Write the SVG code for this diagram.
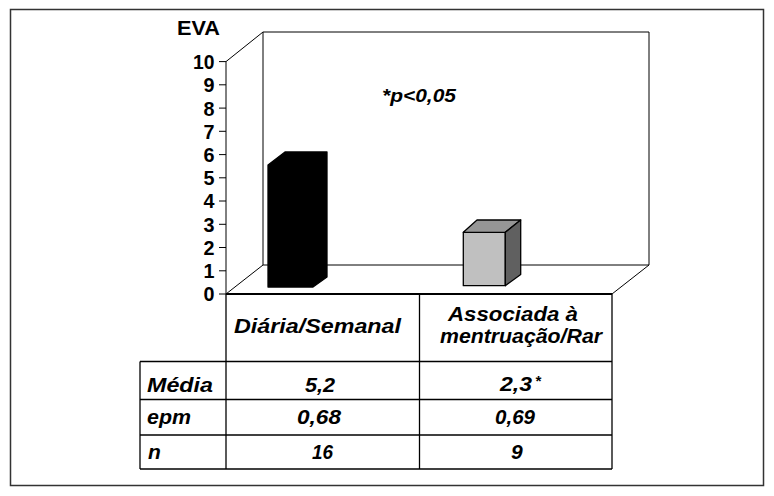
<svg xmlns="http://www.w3.org/2000/svg" width="774" height="496" viewBox="0 0 774 496">
<style>
.t{font-family:"Liberation Sans",Arial,sans-serif;font-weight:bold;fill:#000}
.i{font-style:italic;font-size:21px}
.ax{font-size:21px;text-anchor:end}
.ln{stroke:#000;stroke-width:1;fill:none}
.tb{stroke:#000;stroke-width:1.3;fill:none}
.bar{stroke:#000;stroke-width:1.3;stroke-linejoin:round}
</style>
<rect x="10.5" y="9.5" width="753" height="476" fill="#fff" stroke="#333" stroke-width="1.5"/>
<g id="walls" class="ln">
<polyline points="226,61.6 263,32 649,32 649,265 612,294"/>
<line x1="263" y1="32" x2="263" y2="265"/>
<polyline points="226,294 263,265 649,265"/>
</g>
<g id="axis" class="ln">
<line x1="226" y1="61.6" x2="226" y2="294"/>
<path d="M219,61.6H226M219,84.8H226M219,108.1H226M219,131.3H226M219,154.6H226M219,177.8H226M219,201H226M219,224.3H226M219,247.5H226M219,270.8H226M219,294H226"/>
</g>
<g id="axis-labels" class="t ax">
<text x="214.5" y="69" textLength="21.5" lengthAdjust="spacingAndGlyphs">10</text>
<text x="214.5" y="92.2" textLength="11" lengthAdjust="spacingAndGlyphs">9</text>
<text x="214.5" y="115.5" textLength="11" lengthAdjust="spacingAndGlyphs">8</text>
<text x="214.5" y="138.7" textLength="11" lengthAdjust="spacingAndGlyphs">7</text>
<text x="214.5" y="162" textLength="11" lengthAdjust="spacingAndGlyphs">6</text>
<text x="214.5" y="185.2" textLength="11" lengthAdjust="spacingAndGlyphs">5</text>
<text x="214.5" y="208.4" textLength="11" lengthAdjust="spacingAndGlyphs">4</text>
<text x="214.5" y="231.7" textLength="11" lengthAdjust="spacingAndGlyphs">3</text>
<text x="214.5" y="254.9" textLength="11" lengthAdjust="spacingAndGlyphs">2</text>
<text x="214.5" y="278.2" textLength="11" lengthAdjust="spacingAndGlyphs">1</text>
<text x="214.5" y="301.4" textLength="11" lengthAdjust="spacingAndGlyphs">0</text>
</g>
<text class="t" x="177" y="35" font-size="19.5" textLength="43" lengthAdjust="spacingAndGlyphs">EVA</text>
<text class="t" x="382" y="102" font-size="18.5" font-style="italic" textLength="74" lengthAdjust="spacingAndGlyphs">*p&lt;0,05</text>
<g id="bar-diaria">
<polygon class="bar" fill="#000" points="268,165 285,152 327,152 327,277 313,287 268,287"/>
</g>
<g id="bar-associada" class="bar">
<polygon fill="#C0C0C0" points="463.3,232.3 505.3,232.3 505.3,285.7 463.3,285.7"/>
<polygon fill="#969696" points="463.3,232.3 477,220 520.7,220 505.3,232.3"/>
<polygon fill="#606060" points="505.3,232.3 520.7,220 520.7,274.5 505.3,285.7"/>
</g>
<g id="table" class="tb">
<line x1="226" y1="294" x2="612" y2="294" stroke-width="2"/>
<line x1="140" y1="361.5" x2="612" y2="361.5"/>
<line x1="140" y1="399.5" x2="612" y2="399.5"/>
<line x1="140" y1="435" x2="612" y2="435"/>
<line x1="140" y1="469" x2="612" y2="469"/>
<line x1="140" y1="361.5" x2="140" y2="469"/>
<line x1="226" y1="294" x2="226" y2="469"/>
<line x1="419.5" y1="294" x2="419.5" y2="469"/>
<line x1="612" y1="294" x2="612" y2="469"/>
</g>
<g id="table-text" class="t i">
<text x="234" y="333" textLength="167" lengthAdjust="spacingAndGlyphs">Diária/Semanal</text>
<text x="448" y="321" textLength="130" lengthAdjust="spacingAndGlyphs">Associada à</text>
<text x="440" y="343" textLength="162" lengthAdjust="spacingAndGlyphs">mentruação/Rar</text>
<text x="147" y="392" textLength="66" lengthAdjust="spacingAndGlyphs">Média</text>
<text x="147" y="424" textLength="44" lengthAdjust="spacingAndGlyphs">epm</text>
<text x="148" y="459">n</text>
<text x="305" y="392" textLength="30" lengthAdjust="spacingAndGlyphs">5,2</text>
<text x="297" y="424" textLength="44" lengthAdjust="spacingAndGlyphs">0,68</text>
<text x="312" y="459" textLength="21" lengthAdjust="spacingAndGlyphs">16</text>
<text x="500" y="391" textLength="32" lengthAdjust="spacingAndGlyphs">2,3</text>
<text x="535" y="386" font-size="15">*</text>
<text x="495" y="424" textLength="40" lengthAdjust="spacingAndGlyphs">0,69</text>
<text x="511" y="459">9</text>
</g>
</svg>
